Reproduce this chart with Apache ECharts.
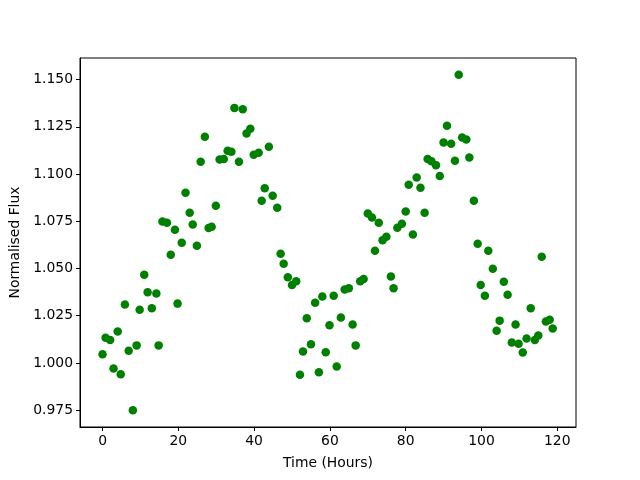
<!DOCTYPE html>
<html>
<head>
<meta charset="utf-8">
<script src="https://cdn.jsdelivr.net/npm/echarts@6/dist/echarts.min.js"></script>
<style>
  html, body { margin: 0; padding: 0; background: #fff; }
  #chart { width: 640px; height: 480px; }
</style>
</head>
<body>
<div id="chart"></div>
<script>
var hours = [
  0, 0.8, 2.0, 2.9, 4.0, 4.8, 5.9, 6.9, 8.0, 9.0,
  9.8, 11.0, 11.9, 13.0, 14.2, 14.8, 15.8, 17.0, 18.0, 19.1,
  19.8, 20.9, 21.9, 23.0, 23.8, 24.9, 25.9, 27.0, 28.0, 28.8,
  29.9, 30.9, 32.0, 33.0, 34.0, 34.8, 36.0, 37.0, 38.0, 39.0,
  39.9, 41.2, 42.0, 42.8, 43.9, 44.9, 46.1, 47.0, 47.8, 48.9,
  50.0, 51.1, 52.1, 52.9, 53.9, 55.0, 56.1, 57.1, 58.0, 58.9,
  59.9, 61.0, 61.8, 62.9, 63.9, 65.0, 66.0, 66.8, 68.0, 68.9,
  70.0, 71.1, 71.9, 72.9, 73.9, 74.9, 76.1, 76.8, 77.8, 79.0,
  80.0, 80.8, 81.9, 82.9, 83.9, 85.0, 85.8, 86.8, 88.0, 89.0,
  90.0, 90.9, 92.0, 93.0, 94.0, 94.9, 96.0, 96.8, 98.0, 99.0,
  99.8, 100.9, 101.8, 103.0, 104.0, 104.8, 105.9, 106.9, 108.0, 109.0,
  109.8, 110.9, 111.9, 113.0, 114.1, 115.0, 115.9, 117.0, 118.0, 118.8
];
// normalised flux at each time
var flux = [
  1.0046, 1.0134, 1.0121, 0.9970, 1.0166, 0.9940, 1.0309, 1.0065, 0.9750, 1.0093,
  1.0282, 1.0467, 1.0374, 1.0289, 1.0367, 1.0093, 1.0749, 1.0742, 1.0573, 1.0705,
  1.0314, 1.0636, 1.0901, 1.0795, 1.0733, 1.0620, 1.1065, 1.1197, 1.0714, 1.0721,
  1.0832, 1.1077, 1.1079, 1.1123, 1.1118, 1.1350, 1.1065, 1.1343, 1.1214, 1.1240,
  1.1102, 1.1112, 1.0859, 1.0924, 1.1144, 1.0885, 1.0822, 1.0578, 1.0525, 1.0453,
  1.0412, 1.0432, 0.9938, 1.0060, 1.0236, 1.0099, 1.0319, 0.9951, 1.0352, 1.0056,
  1.0199, 1.0356, 0.9981, 1.0241, 1.0389, 1.0395, 1.0203, 1.0093, 1.0432, 1.0444,
  1.0791, 1.0770, 1.0594, 1.0742, 1.0650, 1.0668, 1.0457, 1.0395, 1.0716, 1.0737,
  1.0801, 1.0943, 1.0680, 1.0982, 1.0927, 1.0795, 1.1080, 1.1068, 1.1047, 1.0990,
  1.1167, 1.1255, 1.1160, 1.1070, 1.1525, 1.1193, 1.1183, 1.1088, 1.0859, 1.0631,
  1.0412, 1.0356, 1.0594, 1.0499, 1.0171, 1.0224, 1.0430, 1.0361, 1.0108, 1.0203,
  1.0102, 1.0055, 1.0130, 1.0289, 1.0121, 1.0145, 1.0562, 1.0219, 1.0229, 1.0182
];
var xTicks = [0, 20, 40, 60, 80, 100, 120];
var yTicks = [0.975, 1.000, 1.025, 1.050, 1.075, 1.100, 1.125, 1.150];

var points = hours.map(function (h, i) { return [h, flux[i]]; });

var font = "DejaVu Sans";
var myChart = echarts.init(document.getElementById("chart"), null, { renderer: "canvas" });
var option = {
  animation: false,
  backgroundColor: "#fff",
  textStyle: { fontFamily: font },
  grid: {
    left: 80, right: 64, top: 58, bottom: 53,
    show: true, borderColor: "#000", borderWidth: 1, backgroundColor: "transparent"
  },
  xAxis: {
    type: "value",
    min: -5.95,
    max: 124.95,
    name: "Time (Hours)",
    nameLocation: "middle",
    nameGap: 29,
    nameTextStyle: { color: "#000", fontSize: 13.9, fontFamily: font },
    axisLine: { show: true, onZero: false, lineStyle: { color: "#000", width: 1 } },
    axisTick: { show: true, length: 4, customValues: xTicks, lineStyle: { color: "#000" } },
    axisLabel: {
      customValues: xTicks, color: "#000", fontSize: 13.9, fontFamily: font, margin: 7,
      formatter: function (v) { return String(v); }
    },
    splitLine: { show: false }
  },
  yAxis: {
    type: "value",
    min: 0.9661,
    max: 1.1614,
    name: "Normalised Flux",
    nameLocation: "middle",
    nameGap: 54,
    nameTextStyle: { color: "#000", fontSize: 13.9, fontFamily: font },
    axisLine: { show: true, onZero: false, lineStyle: { color: "#000", width: 1 } },
    axisTick: { show: true, length: 4, customValues: yTicks, lineStyle: { color: "#000" } },
    axisLabel: {
      customValues: yTicks, color: "#000", fontSize: 13.9, fontFamily: font, margin: 7,
      formatter: function (v) { return v.toFixed(3); }
    },
    splitLine: { show: false }
  },
  series: [{
    type: "scatter",
    data: points,
    symbol: "circle",
    symbolSize: 8.5,
    itemStyle: { color: "#008000", opacity: 1 }
  }]
};
myChart.setOption(option);
</script>
</body>
</html>
